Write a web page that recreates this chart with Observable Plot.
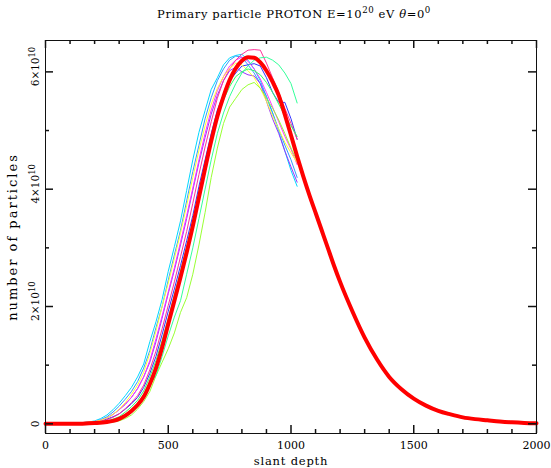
<!DOCTYPE html>
<html><head><meta charset="utf-8">
<script src="https://cdn.jsdelivr.net/npm/d3@7"></script>
<script src="https://cdn.jsdelivr.net/npm/@observablehq/plot@0.6"></script>
<style>
html,body{margin:0;padding:0;background:#fff;}
body{width:551px;height:468px;overflow:hidden;}
#title{position:relative;height:30px;font-family:"DejaVu Serif";font-size:11.5px;letter-spacing:0.6px;color:#000;}
#title span{position:absolute;left:294px;top:9px;transform:translateX(-50%);white-space:nowrap;line-height:1;}
#title sup{font-size:0.75em;vertical-align:0.6em;line-height:0;}
svg{display:block;}
</style></head><body>
<div id="title"><span>Primary particle PROTON E=10<sup>20</sup> eV <i>θ</i>=0<sup>0</sup></span></div>
<div id="chart"></div>
<script>
// ---- data (number of particles in units of 10^10) ----
const depthGrid = [150,175,200,225,250,275,300,325,350,375,400,425,450,475,500,525,550,575,600,625,650,675,700,725,750,775,800,825,850,875,900,925,950,975,1000,1025];

const showerNames = ["cyan","dodger","blue","purple","magenta","pink","yellow","green","chartreuse","spring"];
const showerColors = ["#00d8ff","#3399ff","#3333ff","#9933ff","#ff33ff","#ff3399","#ffff33","#33ff66","#99ff33","#33ff99"];

const showerCyan = [0.02,0.03,0.05,0.09,0.15,0.24,0.35,0.48,0.62,0.80,1.02,1.40,1.74,2.12,2.60,3.02,3.46,3.98,4.50,4.97,5.34,5.70,5.90,6.12,6.24,6.28,6.30,6.20,6.05,5.85,5.58,5.30,4.98,4.65,4.32,4.05];
const showerDodger = [0.02,0.03,0.04,0.07,0.12,0.20,0.30,0.42,0.55,0.72,0.95,1.25,1.64,2.00,2.45,2.88,3.30,3.80,4.30,4.75,5.20,5.56,5.85,6.05,6.20,6.27,6.25,6.12,5.98,5.80,5.58,5.30,5.02,4.75,4.50,4.20];
const showerBlue = [0.01,0.02,0.03,0.05,0.08,0.12,0.17,0.25,0.34,0.45,0.62,0.86,1.15,1.52,1.92,2.30,2.70,3.12,3.55,4.05,4.50,4.95,5.35,5.62,5.85,5.98,6.10,6.12,6.14,6.10,5.90,5.65,5.48,5.48,5.20,4.85];
const showerPurple = [0.01,0.02,0.03,0.06,0.10,0.16,0.24,0.33,0.45,0.60,0.80,1.05,1.40,1.80,2.22,2.62,3.05,3.50,3.98,4.45,4.88,5.28,5.60,5.85,6.02,6.08,6.00,5.95,5.93,5.80,5.50,5.20,4.95,4.65,4.38,4.12];
const showerMagenta = [0.02,0.03,0.04,0.06,0.10,0.16,0.24,0.34,0.45,0.60,0.80,1.08,1.45,1.84,2.25,2.66,3.10,3.55,4.02,4.50,4.95,5.35,5.68,5.92,6.10,6.20,6.25,6.18,6.05,5.88,5.65,5.40,5.15,4.90,4.68,4.42];
const showerPink = [0.01,0.02,0.03,0.04,0.07,0.11,0.17,0.26,0.36,0.48,0.66,0.92,1.24,1.62,2.02,2.42,2.85,3.28,3.76,4.25,4.72,5.15,5.55,5.85,6.05,6.20,6.30,6.37,6.38,6.37,6.15,5.90,5.65,5.38,5.12,4.85];
const showerYellow = [0.02,0.03,0.04,0.06,0.10,0.16,0.25,0.36,0.50,0.66,0.88,1.20,1.58,2.00,2.40,2.82,3.25,3.72,4.20,4.66,5.08,5.45,5.72,5.92,6.06,6.15,6.12,6.02,5.90,5.72,5.50,5.25,5.02,4.80,4.62,4.45];
const showerGreen = [0.01,0.015,0.02,0.03,0.05,0.08,0.12,0.20,0.29,0.40,0.56,0.80,1.08,1.42,1.80,2.20,2.60,3.02,3.46,3.95,4.42,4.85,5.22,5.52,5.75,5.92,6.00,6.05,6.02,5.95,5.82,5.65,5.45,5.25,5.08,4.90];
const showerChartreuse = [0.005,0.008,0.01,0.015,0.02,0.03,0.05,0.09,0.15,0.25,0.38,0.55,0.82,1.05,1.28,1.55,1.90,2.15,2.55,3.05,3.60,4.20,4.70,5.12,5.40,5.55,5.70,5.78,5.82,5.72,5.55,5.38,5.18,4.95,4.70,4.48];
const showerSpring = [0.005,0.008,0.01,0.015,0.025,0.04,0.07,0.12,0.20,0.32,0.50,0.68,0.82,1.15,1.50,1.82,2.10,2.55,3.00,3.50,4.00,4.50,4.95,5.30,5.58,5.80,5.98,6.10,6.20,6.24,6.25,6.20,6.12,5.98,5.80,5.47];

const fitDepth = [0,50,100,150,200,250,275,300,325,350,375,400,425,450,475,500,525,550,575,600,625,650,675,700,725,750,775,800,825,850,875,900,925,950,975,1000,1025,1050,1075,1100,1125,1150,1175,1200,1250,1300,1350,1400,1450,1500,1550,1600,1650,1700,1750,1800,1850,1900,1950,2000];
const fitValues = [0,0,0,0.003,0.012,0.03,0.05,0.085,0.14,0.22,0.32,0.46,0.68,0.95,1.30,1.70,2.10,2.50,2.92,3.37,3.86,4.35,4.82,5.24,5.58,5.86,6.06,6.19,6.25,6.24,6.16,6.02,5.83,5.60,5.27,4.92,4.56,4.22,3.90,3.60,3.30,3.00,2.70,2.42,1.92,1.47,1.10,0.80,0.59,0.43,0.31,0.22,0.16,0.11,0.08,0.06,0.04,0.025,0.015,0.01];

const xMajorTicks = [0,500,1000,1500,2000];
const xMinorTicks = [100,200,300,400,600,700,800,900,1100,1200,1300,1400,1600,1700,1800,1900];
const yMajorTicks = [0,2,4,6];
const yMinorTicks = [1,3,5];
const yTickBase = ["0","2×10","4×10","6×10"];
const yTickExp = ["","10","10","10"];
const xTitle = "slant depth";
const yTitle = "number of particles";

// ---- build ----
const unit = 1e10;
const showers = [showerCyan,showerDodger,showerBlue,showerPurple,showerMagenta,showerPink,showerYellow,showerGreen,showerChartreuse,showerSpring];
const showerRows = showers.flatMap((vals,i) => vals.map((v,j) => ({depth: depthGrid[j], n: v*unit, shower: showerNames[i]})));
const fitRows = fitDepth.map((d,i) => ({depth: d, n: fitValues[i]*unit}));
const yMaj = yMajorTicks.map(v => v*unit);
const yMin = yMinorTicks.map(v => v*unit);
const ink = "#111";

const W = 551, H = 438, mL = 45, mR = 15, mT = 10, mB = 35;
const fw = W - mL - mR, fh = H - mT - mB;

function ticksX(values, side, len) {
  return Plot.ruleX(values, {x: d => d, stroke: ink, strokeWidth: 1.5,
    insetTop: side === "bottom" ? fh - len : 0, insetBottom: side === "top" ? fh - len : 0});
}
function ticksY(values, side, len) {
  return Plot.ruleY(values, {y: d => d, stroke: ink, strokeWidth: 1.5,
    insetRight: side === "left" ? fw - len : 0, insetLeft: side === "right" ? fw - len : 0});
}

const plot = Plot.plot({
  width: W, height: H,
  marginLeft: mL, marginRight: mR, marginTop: mT, marginBottom: mB,
  style: {fontFamily: "DejaVu Serif", fontSize: "11px", color: "#000", background: "#fff", overflow: "visible"},
  x: {domain: [0, 2000]},
  y: {domain: [-0.165e10, 6.535e10]},
  color: {domain: showerNames, range: showerColors},
  marks: [
    Plot.line(showerRows, {x: "depth", y: "n", z: "shower", stroke: "shower", strokeWidth: 1}),
    Plot.line(fitRows, {x: "depth", y: "n", stroke: "#ff0000", strokeWidth: 4, curve: "monotone-x"}),
    Plot.frame({stroke: ink}),
    ticksX(xMajorTicks, "bottom", 8), ticksX(xMinorTicks, "bottom", 4),
    ticksX(xMajorTicks, "top", 8), ticksX(xMinorTicks, "top", 4),
    ticksY(yMaj, "left", 8), ticksY(yMin, "left", 4),
    ticksY(yMaj, "right", 8), ticksY(yMin, "right", 4),
    Plot.axisX(xMajorTicks, {anchor: "bottom", tickSize: 0, tickPadding: 8, fill: "#000", fontSize: 11, label: null, tickFormat: d => String(d)}),
    Plot.axisY(yMaj, {anchor: "left", tickSize: 0, tickPadding: 7, tickRotate: -90, fill: "#000", fontSize: 10.5, label: null,
      tickFormat: d => yTickBase[yMajorTicks.indexOf(Math.round(d/unit))]}),
    Plot.text([xTitle], {frameAnchor: "bottom", dy: 28, lineAnchor: "middle", textAnchor: "middle", fontSize: 11.5, fill: "#000"}),
    Plot.text([yTitle], {frameAnchor: "left", rotate: -90, dx: -29, lineAnchor: "bottom", textAnchor: "middle", fontSize: 13, fill: "#000"})
  ]
});
document.getElementById("chart").appendChild(plot);

// superscript exponents on y tick labels
d3.select(plot).selectAll('g[aria-label="y-axis tick label"] text').each(function() {
  const base = this.textContent;
  const i = yTickBase.indexOf(base);
  if (i < 0 || !yTickExp[i]) return;
  const t = d3.select(this);
  t.append("tspan").attr("dy", "-0.45em").attr("font-size", "0.8em").text(yTickExp[i]);
  const full = this.getComputedTextLength();
  const b = this.getSubStringLength(0, base.length);
  t.attr("x", (full - b) / 2);
});
// letter spacing on axis titles
d3.select(plot).selectAll('g[aria-label="text"] text').each(function() {
  d3.select(this).attr("letter-spacing", this.textContent === yTitle ? "2px" : "0.8px");
});
</script>
</body></html>
